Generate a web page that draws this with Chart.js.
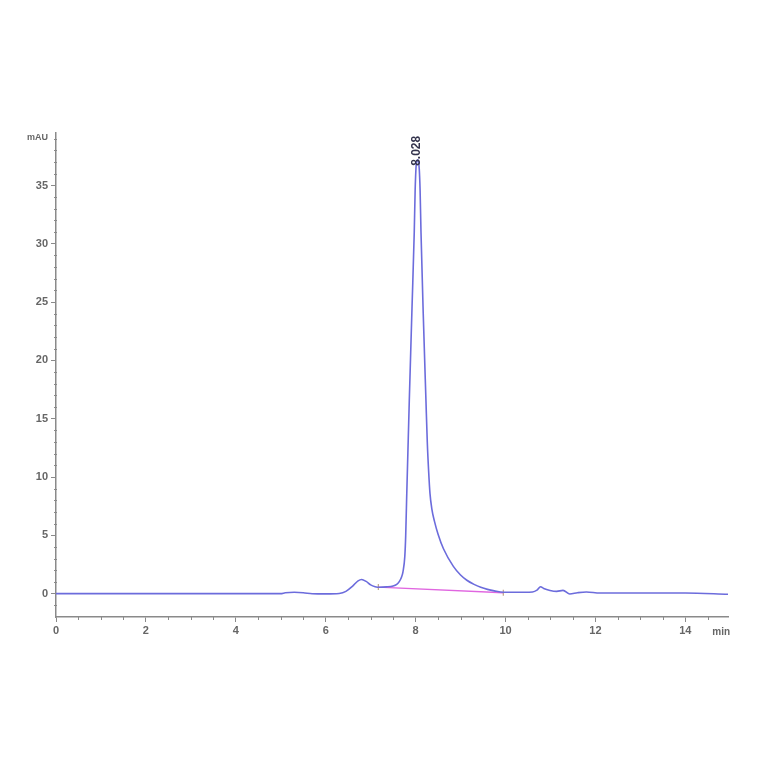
<!DOCTYPE html>
<html>
<head>
<meta charset="utf-8">
<script src="https://cdn.jsdelivr.net/npm/chart.js@4.4.1/dist/chart.umd.min.js"></script>
<style>
  body { margin: 0; background: #fff; }
  canvas { display: block; }
</style>
</head>
<body>
<canvas id="hplc" width="764" height="764"></canvas>
<script>
// retention time (min) and absorbance (mAU)
const times = [0, 1, 2, 3, 4, 5.0, 5.1, 5.3, 5.5, 5.7, 6.0, 6.3, 6.45, 6.6, 6.72, 6.8, 6.9, 7.0, 7.1, 7.2,
  7.35, 7.5, 7.58, 7.64, 7.69, 7.72, 7.76, 7.78, 7.8, 7.86, 7.92, 7.97, 7.99, 8.02, 8.05, 8.08, 8.1, 8.12, 8.17, 8.23,
  8.26, 8.29, 8.32, 8.36, 8.42, 8.5, 8.62, 8.84, 9.0, 9.14, 9.3, 9.45, 9.6, 9.75, 9.95, 10.2, 10.6, 10.7, 10.78,
  10.85, 10.99, 11.14, 11.28, 11.43, 11.6, 11.8, 12.1, 13.2, 14.0, 14.95];
const signal = [0, 0, 0, 0, 0, 0, 0.08, 0.12, 0.08, 0, -0.02, 0.02, 0.2, 0.65, 1.1, 1.22, 1.05, 0.75, 0.6, 0.55,
  0.58, 0.66, 0.8, 1.05, 1.45, 1.9, 3.2, 5.0, 8.06, 16.6, 24.5, 31.0, 34.6, 37.0, 37.2, 36.5, 34.6, 31.0, 24.0, 16.6,
  13.0, 10.5, 8.6, 7.3, 6.2, 5.1, 3.85, 2.34, 1.6, 1.15, 0.8, 0.55, 0.37, 0.24, 0.12, 0.12, 0.15, 0.3, 0.6,
  0.45, 0.28, 0.2, 0.28, -0.03, 0.08, 0.15, 0.06, 0.06, 0.06, -0.05];

// integration baseline under the main peak
const baseTimes = [7.17, 9.95];
const baseValues = [0.57, 0.08];

const peakTime = 8.028;
const peakHeight = 37.2;

const xTicks = [0, 2, 4, 6, 8, 10, 12, 14];
const yTicks = [0, 5, 10, 15, 20, 25, 30, 35];

const axisFont = { family: "'Liberation Sans Narrow', 'Liberation Sans', sans-serif", size: 11, weight: 'bold' };
const axisGrey = '#8a8a8a';
const labelGrey = '#666';

// minor ticks, axis units and the peak label
const extras = {
  id: 'extras',
  afterDraw(chart) {
    const ctx = chart.ctx;
    const x = chart.scales.x, y = chart.scales.y;
    const area = chart.chartArea;
    ctx.save();
    ctx.strokeStyle = axisGrey;
    ctx.lineWidth = 1;
    ctx.beginPath();
    for (let v = 0.5; v < x.max; v += 0.5) {
      if (v % 2 === 0) continue;
      const px = Math.round(x.getPixelForValue(v)) + 0.5;
      ctx.moveTo(px, area.bottom);
      ctx.lineTo(px, area.bottom + 3);
    }
    for (let v = -1; v < y.max; v += 1) {
      if (v % 5 === 0) continue;
      const py = Math.round(y.getPixelForValue(v)) + 0.5;
      ctx.moveTo(area.left - 2, py);
      ctx.lineTo(area.left + 1, py);
    }
    ctx.stroke();

    ctx.fillStyle = labelGrey;
    ctx.font = "bold 9px 'Liberation Sans Narrow', 'Liberation Sans', sans-serif";
    ctx.textAlign = 'right';
    ctx.textBaseline = 'middle';
    ctx.fillText('mAU', area.left - 8, area.top + 5);
    ctx.font = "bold 10px 'Liberation Sans Narrow', 'Liberation Sans', sans-serif";
    ctx.textAlign = 'center';
    ctx.textBaseline = 'top';
    ctx.fillText('min', x.getPixelForValue(14.8), area.bottom + 10);

    // retention time label, rotated, sitting on top of the apex
    const px = x.getPixelForValue(peakTime);
    const py = y.getPixelForValue(peakHeight);
    ctx.translate(px, py + 6);
    ctx.rotate(-Math.PI / 2);
    ctx.fillStyle = '#33334d';
    ctx.font = "bold 12px 'Liberation Sans Narrow', 'Liberation Sans', sans-serif";
    ctx.textAlign = 'left';
    ctx.textBaseline = 'middle';
    ctx.fillText(peakTime.toFixed(3), 0, 0);
    ctx.restore();
  }
};

new Chart(document.getElementById('hplc').getContext('2d'), {
  type: 'line',
  data: {
    datasets: [
      {
        data: times.map((t, i) => ({ x: t, y: signal[i] })),
        borderColor: '#6c6cdc',
        borderWidth: 1.6,
        pointRadius: 0,
        cubicInterpolationMode: 'monotone'
      },
      {
        data: baseTimes.map((t, i) => ({ x: t, y: baseValues[i] })),
        borderColor: '#e066e0',
        borderWidth: 1.3,
        pointStyle: 'line',
        pointRotation: 90,
        pointRadius: 3,
        pointBorderColor: '#b09070',
        pointBorderWidth: 1
      }
    ]
  },
  options: {
    responsive: false,
    animation: false,
    layout: { padding: { top: 133, right: 36, bottom: 0, left: 0 } },
    plugins: {
      legend: { display: false },
      tooltip: { enabled: false }
    },
    scales: {
      x: {
        type: 'linear',
        min: 0,
        max: 14.95,
        afterBuildTicks: (s) => { s.ticks = xTicks.map(v => ({ value: v })); },
        afterFit: (s) => { s.height = 147; },
        grid: { drawOnChartArea: false, tickLength: 5, tickColor: axisGrey },
        border: { color: axisGrey, width: 1.5 },
        ticks: { color: labelGrey, font: axisFont, padding: 2, maxRotation: 0 }
      },
      y: {
        min: -2,
        max: 39.5,
        afterBuildTicks: (s) => { s.ticks = yTicks.map(v => ({ value: v })); },
        afterFit: (s) => { s.width = 56; },
        grid: { drawOnChartArea: false, tickLength: 5, tickColor: axisGrey },
        border: { color: axisGrey, width: 1.5 },
        ticks: { color: labelGrey, font: axisFont, padding: 3 }
      }
    }
  },
  plugins: [extras]
});
</script>
</body>
</html>
